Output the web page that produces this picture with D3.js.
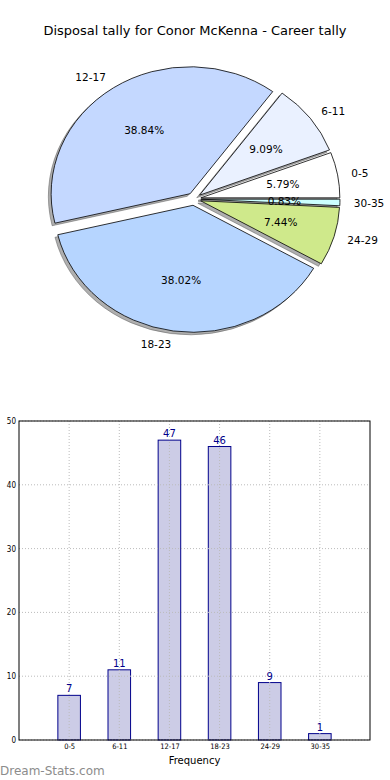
<!DOCTYPE html>
<html>
<head>
<meta charset="utf-8">
<script src="https://d3js.org/d3.v7.min.js"></script>
<style>
  body { margin: 0; background: #fff; }
  svg { display: block; font-family: "DejaVu Sans", sans-serif; }
</style>
</head>
<body>
<script>
// disposal ranges and how many games fell in each
var categories = ["0-5", "6-11", "12-17", "18-23", "24-29", "30-35"];
var counts = [7, 11, 47, 46, 9, 1];
var sliceColors = ["#ffffff", "#eaf1ff", "#c4d8ff", "#b6d5ff", "#cfe98b", "#ccffff"];
var yTicks = [0, 10, 20, 30, 40, 50];

var _width = 390, _height = 780;
var svg = d3.select("body").append("svg")
    .attr("width", _width)
    .attr("height", _height);

svg.append("text")
    .attr("x", 195).attr("y", 35)
    .attr("text-anchor", "middle")
    .attr("font-size", 13)
    .attr("fill", "#000")
    .text("Disposal tally for Conor McKenna - Career tally");

// ---------- pie ----------
var cx = 194, cy = 199, rx = 139, ry = 127, explode = 0.05;
var total = d3.sum(counts);
// matplotlib style: start at 3 o'clock, counter-clockwise
var pie = d3.pie().sort(null).startAngle(Math.PI / 2).endAngle(Math.PI / 2 - 2 * Math.PI);
var arcs = pie(counts);
var arc = d3.arc().innerRadius(0).outerRadius(1);

function midTheta(d) {
    // convert d3 angle to math angle
    var a = (d.startAngle + d.endAngle) / 2;
    return Math.PI / 2 - a;
}
function offset(d) {
    var t = midTheta(d);
    return [cx + explode * rx * Math.cos(t), cy - explode * ry * Math.sin(t)];
}

var pieG = svg.append("g");
pieG.selectAll("path.shadow")
    .data(arcs)
    .enter().append("path")
    .attr("class", "shadow")
    .attr("d", arc)
    .attr("transform", function (d) {
        var o = offset(d);
        return "translate(" + (o[0] - 0.02 * rx) + "," + (o[1] + 0.02 * ry) + ") scale(" + rx + "," + ry + ")";
    })
    .attr("fill", "#4d4d4d")
    .attr("fill-opacity", 0.45)
    .attr("stroke", "#4d4d4d")
    .attr("stroke-opacity", 0.45)
    .attr("stroke-width", 1)
    .attr("vector-effect", "non-scaling-stroke");

pieG.selectAll("path.wedge")
    .data(arcs)
    .enter().append("path")
    .attr("class", "wedge")
    .attr("d", arc)
    .attr("transform", function (d) {
        var o = offset(d);
        return "translate(" + o[0] + "," + o[1] + ") scale(" + rx + "," + ry + ")";
    })
    .attr("fill", function (d, i) { return sliceColors[i]; })
    .attr("stroke", "#000")
    .attr("stroke-width", 0.8)
    .attr("vector-effect", "non-scaling-stroke");

pieG.selectAll("text.lbl")
    .data(arcs)
    .enter().append("text")
    .attr("class", "lbl")
    .attr("x", function (d) { return offset(d)[0] + 1.1 * rx * Math.cos(midTheta(d)); })
    .attr("y", function (d) { return offset(d)[1] - 1.1 * ry * Math.sin(midTheta(d)); })
    .attr("dy", "0.4em")
    .attr("text-anchor", function (d) { return Math.cos(midTheta(d)) > 0 ? "start" : "end"; })
    .attr("font-size", 10.5)
    .text(function (d, i) { return categories[i]; });

pieG.selectAll("text.pct")
    .data(arcs)
    .enter().append("text")
    .attr("class", "pct")
    .attr("x", function (d) { return offset(d)[0] + 0.6 * rx * Math.cos(midTheta(d)); })
    .attr("y", function (d) { return offset(d)[1] - 0.6 * ry * Math.sin(midTheta(d)); })
    .attr("dy", "0.35em")
    .attr("text-anchor", "middle")
    .attr("font-size", 10.5)
    .text(function (d) { return (100 * d.value / total).toFixed(2) + "%"; });

// ---------- bars ----------
var plotLeft = 19, plotRight = 370, plotTop = 421, plotBottom = 740;
var x = d3.scaleLinear().domain([-1, categories.length]).range([plotLeft, plotRight]);
var y = d3.scaleLinear().domain([0, 50]).range([plotBottom, plotTop]);
var barW = 0.45;

var barG = svg.append("g");

barG.selectAll("rect.bar")
    .data(counts)
    .enter().append("rect")
    .attr("class", "bar")
    .attr("x", function (d, i) { return x(i - barW / 2); })
    .attr("width", x(barW) - x(0))
    .attr("y", function (d) { return y(d); })
    .attr("height", function (d) { return y(0) - y(d); })
    .attr("fill", "#ccccE6")
    .attr("stroke", "#00008b")
    .attr("stroke-width", 1);

// dotted grid on top of the bars
barG.selectAll("line.vgrid")
    .data(categories)
    .enter().append("line")
    .attr("class", "vgrid")
    .attr("x1", function (d, i) { return x(i); })
    .attr("x2", function (d, i) { return x(i); })
    .attr("y1", plotTop).attr("y2", plotBottom)
    .attr("stroke", "#bbb")
    .attr("stroke-dasharray", "1,2");
barG.selectAll("line.hgrid")
    .data(yTicks)
    .enter().append("line")
    .attr("class", "hgrid")
    .attr("x1", plotLeft).attr("x2", plotRight)
    .attr("y1", function (d) { return y(d); })
    .attr("y2", function (d) { return y(d); })
    .attr("stroke", "#bbb")
    .attr("stroke-dasharray", "1,2");

barG.selectAll("text.val")
    .data(counts)
    .enter().append("text")
    .attr("class", "val")
    .attr("x", function (d, i) { return x(i); })
    .attr("y", function (d) { return y(d) - 3; })
    .attr("text-anchor", "middle")
    .attr("font-size", 10)
    .attr("fill", "#00008b")
    .text(function (d) { return d; });

barG.append("rect")
    .attr("x", plotLeft).attr("y", plotTop)
    .attr("width", plotRight - plotLeft).attr("height", plotBottom - plotTop)
    .attr("fill", "none")
    .attr("stroke", "#000")
    .attr("stroke-width", 1);

var yAxis = d3.axisLeft(y).tickValues(yTicks).tickSize(0).tickPadding(3);
barG.append("g")
    .attr("transform", "translate(" + plotLeft + ",0)")
    .call(yAxis)
    .call(function (g) { g.select(".domain").remove(); })
    .selectAll("text")
    .attr("font-size", 8)
    .attr("font-family", "DejaVu Sans Condensed, DejaVu Sans")
    .attr("fill", "#000");

var xAxis = d3.axisBottom(x)
    .tickValues(d3.range(categories.length))
    .tickFormat(function (i) { return categories[i]; })
    .tickSize(0).tickPadding(4);
barG.append("g")
    .attr("transform", "translate(0," + plotBottom + ")")
    .call(xAxis)
    .call(function (g) { g.select(".domain").remove(); })
    .selectAll("text")
    .attr("font-size", 7.5)
    .attr("font-family", "DejaVu Sans Condensed, DejaVu Sans")
    .attr("fill", "#000");

svg.append("text")
    .attr("x", (plotLeft + plotRight) / 2).attr("y", 764)
    .attr("text-anchor", "middle")
    .attr("font-size", 10)
    .text("Frequency");

svg.append("text")
    .attr("x", 0).attr("y", 775)
    .attr("font-size", 12)
    .attr("fill", "#8c8c8c")
    .text("Dream-Stats.com");
</script>
</body>
</html>
